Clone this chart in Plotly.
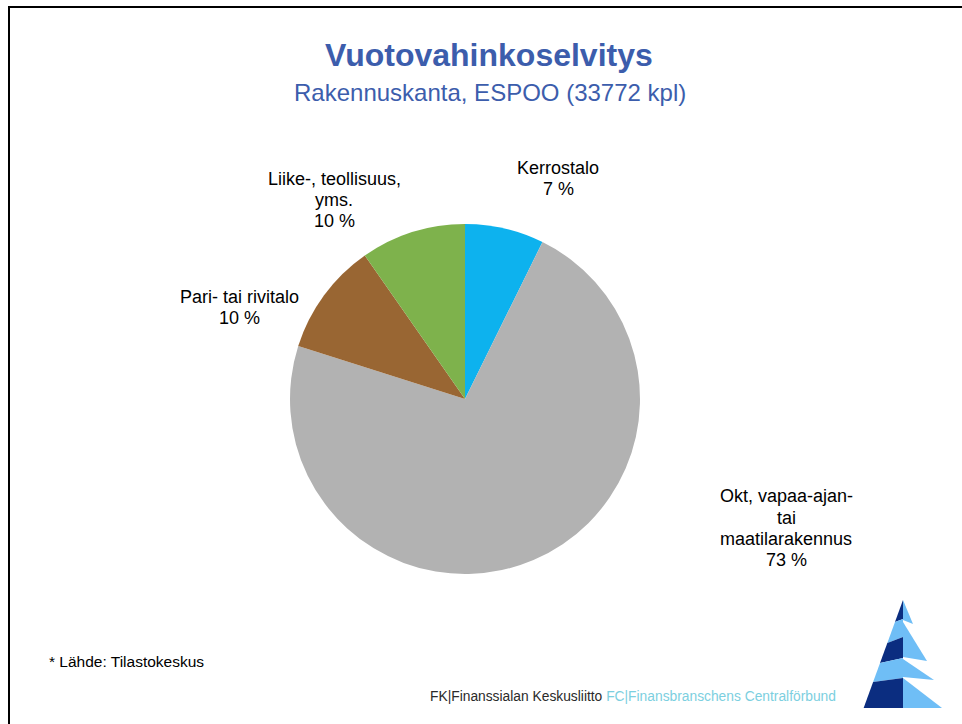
import plotly.graph_objects as go

# ---- data ----
categories = ["Kerrostalo", "Okt, vapaa-ajan-\ntai\nmaatilarakennus", "Pari- tai rivitalo", "Liike-, teollisuus,\nyms."]
values = [7.3, 72.6, 10.4, 9.7]
colors = ["#0DB2EE", "#B2B2B2", "#996633", "#7EB24C"]
title_text = "Vuotovahinkoselvitys"
subtitle_text = "Rakennuskanta, ESPOO (33772 kpl)"
source_text = "* Lähde: Tilastokeskus"
logo_fk = "FK|Finanssialan Keskusliitto"
logo_fc = "FC|Finansbranschens Centralförbund"

W, H = 962, 724
def px(x):
    return x / W
def py(y):
    return 1 - y / H

FONT = "Liberation Sans, Arial, sans-serif"

fig = go.Figure(go.Pie(
    labels=[c.replace("\n", " ") for c in categories],
    values=values,
    sort=False,
    direction="clockwise",
    rotation=0,
    marker=dict(colors=colors, line=dict(width=0)),
    textinfo="none",
    hoverinfo="label+percent",
    showlegend=False,
    domain=dict(x=[px(290), px(640)], y=[py(574), py(224)]),
))

annotations = []
# slice labels (one annotation per line to mimic tight line spacing)
label_centers = [(558, 178), (786, 528), (239, 307), (334, 200)]
line_h = 21
for cat, val, (cx, cy) in zip(categories, values, label_centers):
    lines = cat.split("\n") + [f"{round(val)} %"]
    n = len(lines)
    for i, ln in enumerate(lines):
        yy = cy + (i - (n - 1) / 2) * line_h
        annotations.append(dict(
            x=px(cx), y=py(yy), xref="paper", yref="paper",
            text=ln, showarrow=False, xanchor="center", yanchor="middle",
            font=dict(family=FONT, size=18, color="#000000"),
        ))

annotations.append(dict(x=px(489), y=py(55), xref="paper", yref="paper",
                        text=f"<b>{title_text}</b>", showarrow=False,
                        xanchor="center", yanchor="middle",
                        font=dict(family=FONT, size=32, color="#3C5DAC")))
annotations.append(dict(x=px(490), y=py(93), xref="paper", yref="paper",
                        text=subtitle_text, showarrow=False,
                        xanchor="center", yanchor="middle",
                        font=dict(family=FONT, size=24, color="#3C5DAC")))
annotations.append(dict(x=px(47), y=py(661), xref="paper", yref="paper",
                        text=source_text, showarrow=False,
                        xanchor="left", yanchor="middle",
                        font=dict(family=FONT, size=15.5, color="#000000")))
annotations.append(dict(x=px(428), y=py(696), xref="paper", yref="paper",
                        text=f"<span style='color:#2A2A2A'>{logo_fk}</span> "
                             f"<span style='color:#7CCFE0'>{logo_fc}</span>",
                        showarrow=False, xanchor="left", yanchor="middle",
                        font=dict(family=FONT, size=13.8, color="#2A2A2A")))

# ---- shapes: frame and logo ----
def poly(points, fill):
    d = "M " + " L ".join(f"{px(x)},{py(y)}" for x, y in points) + " Z"
    return dict(type="path", path=d, xref="paper", yref="paper",
                fillcolor=fill, line=dict(width=0), layer="above")

shapes = [dict(type="path",
               path=f"M {px(9)},{py(724)} L {px(9)},{py(7)} L {px(962)},{py(7)}",
               xref="paper", yref="paper", line=dict(color="#000000", width=2))]

DARK = "#0B2D80"
LIGHT = "#6FBEF6"
def xl(y):
    return 903 - 39 * (y - 600) / 107

shapes += [
    poly([(903, 600), (903, 619), (xl(622), 622)], DARK),
    poly([(903, 619), (903, 637), (xl(643), 643), (xl(622), 622)], LIGHT),
    poly([(903, 637), (903, 658), (xl(663), 663), (xl(643), 643)], DARK),
    poly([(903, 658), (903, 678), (xl(682), 682), (xl(663), 663)], LIGHT),
    poly([(903, 678), (903, 708), (xl(708), 708), (xl(682), 682)], DARK),
    poly([(903, 600), (913, 624), (903, 620)], LIGHT),
    poly([(903, 622), (927, 661), (903, 657)], LIGHT),
    poly([(903, 659), (934, 680), (903, 677)], LIGHT),
    poly([(903, 678), (942, 708), (903, 708)], LIGHT),
]

fig.update_layout(
    width=W, height=H,
    margin=dict(l=0, r=0, t=0, b=0),
    paper_bgcolor="#FFFFFF",
    plot_bgcolor="#FFFFFF",
    annotations=annotations,
    shapes=shapes,
)

fig.write_html("out.html")
